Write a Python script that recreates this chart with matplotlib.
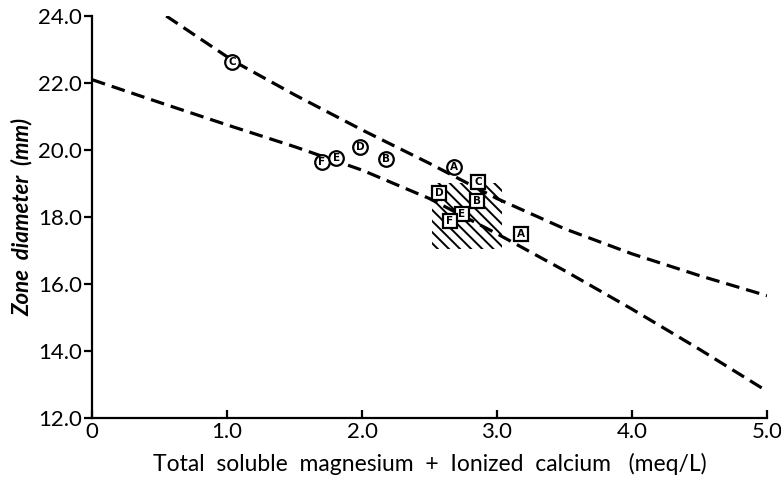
import numpy as np
import matplotlib
matplotlib.use("Agg")
import matplotlib.pyplot as plt
from matplotlib.patches import Rectangle

# ---------------------------------------------------------------
# Datos
# ---------------------------------------------------------------
# curva superior (discontinua)
x_sup = [0.55, 1.05, 1.5, 2.0, 2.5, 3.0, 3.5, 4.0, 4.5, 5.0]
y_sup = [24.0, 22.65, 21.65, 20.6, 19.6, 18.55, 17.65, 16.9, 16.25, 15.65]

# curva inferior (discontinua)
x_inf = [0.0, 0.5, 1.0, 1.5, 2.0, 2.5, 3.0, 3.5, 4.0, 4.5, 5.0]
y_inf = [22.1, 21.42, 20.75, 20.1, 19.4, 18.55, 17.5, 16.4, 15.25, 14.05, 12.8]

# puntos en circulo
letras_circ = ["C", "F", "E", "D", "B", "A"]
x_circ = [1.04, 1.70, 1.81, 1.985, 2.18, 2.68]
y_circ = [22.63, 19.63, 19.75, 20.08, 19.72, 19.50]

# puntos en cuadrado
letras_cuad = ["D", "C", "B", "E", "F", "A"]
x_cuad = [2.57, 2.86, 2.85, 2.74, 2.65, 3.18]
y_cuad = [18.71, 19.05, 18.49, 18.09, 17.89, 17.49]

# zona sombreada
zona_x = [2.52, 3.04]
zona_y = [17.05, 19.0]

x_ticks = [0, 1, 2, 3, 4, 5]
x_labels = ["0", "1.0", "2.0", "3.0", "4.0", "5.0"]
y_ticks = [12, 14, 16, 18, 20, 22, 24]
y_labels = ["12.0", "14.0", "16.0", "18.0", "20.0", "22.0", "24.0"]

# ---------------------------------------------------------------
# Figura
# ---------------------------------------------------------------
plt.rcParams["font.family"] = ["Lato", "DejaVu Sans"]
plt.rcParams["hatch.linewidth"] = 1.4

fig = plt.figure(figsize=(7.81, 4.8), dpi=100)
ax = fig.add_axes([92 / 781, 62 / 480, 675 / 781, 402 / 480])

for xs, ys in [(x_sup, y_sup), (x_inf, y_inf)]:
    ln, = ax.plot(xs, ys, color="black", linewidth=2.3, zorder=2)
    ln.set_dashes((4.3, 2.2))

ax.add_patch(Rectangle((zona_x[0], zona_y[0]), zona_x[1] - zona_x[0],
                       zona_y[1] - zona_y[0], fill=False, hatch="\\\\\\",
                       edgecolor="black", linewidth=0, zorder=1))

for l, x, y in zip(letras_circ, x_circ, y_circ):
    ax.plot(x, y, marker="o", markersize=10.5, mfc="white", mec="black",
            mew=1.6, zorder=3)
    ax.text(x, y, l, fontsize=7.5, fontweight="bold", ha="center",
            va="center", family="DejaVu Sans", zorder=4)

for l, x, y in zip(letras_cuad, x_cuad, y_cuad):
    ax.plot(x, y, marker="s", markersize=10.5, mfc="white", mec="black",
            mew=1.6, zorder=3)
    ax.text(x, y, l, fontsize=7.5, fontweight="bold", ha="center",
            va="center", family="DejaVu Sans", zorder=4)

ax.set_xlim(0, 5)
ax.set_ylim(12, 24)
ax.spines["top"].set_visible(False)
ax.spines["right"].set_visible(False)
ax.spines["left"].set_linewidth(1.6)
ax.spines["bottom"].set_linewidth(1.6)

ax.set_xticks(x_ticks)
ax.set_xticklabels(x_labels)
ax.set_yticks(y_ticks)
ax.set_yticklabels(y_labels)
ax.tick_params(axis="x", direction="in", length=6, width=1.6,
               labelsize=16, pad=3)
ax.tick_params(axis="y", direction="out", length=6, width=1.6,
               labelsize=16, pad=1)

ax.set_xlabel("Total  soluble  magnesium  +  Ionized  calcium   (meq/L)",
              fontsize=16.5, labelpad=8)
ax.set_ylabel("Zone  diameter  (mm)", fontsize=16, fontstyle="italic",
              fontweight="bold", labelpad=4)

fig.savefig("out.png", dpi=100)
